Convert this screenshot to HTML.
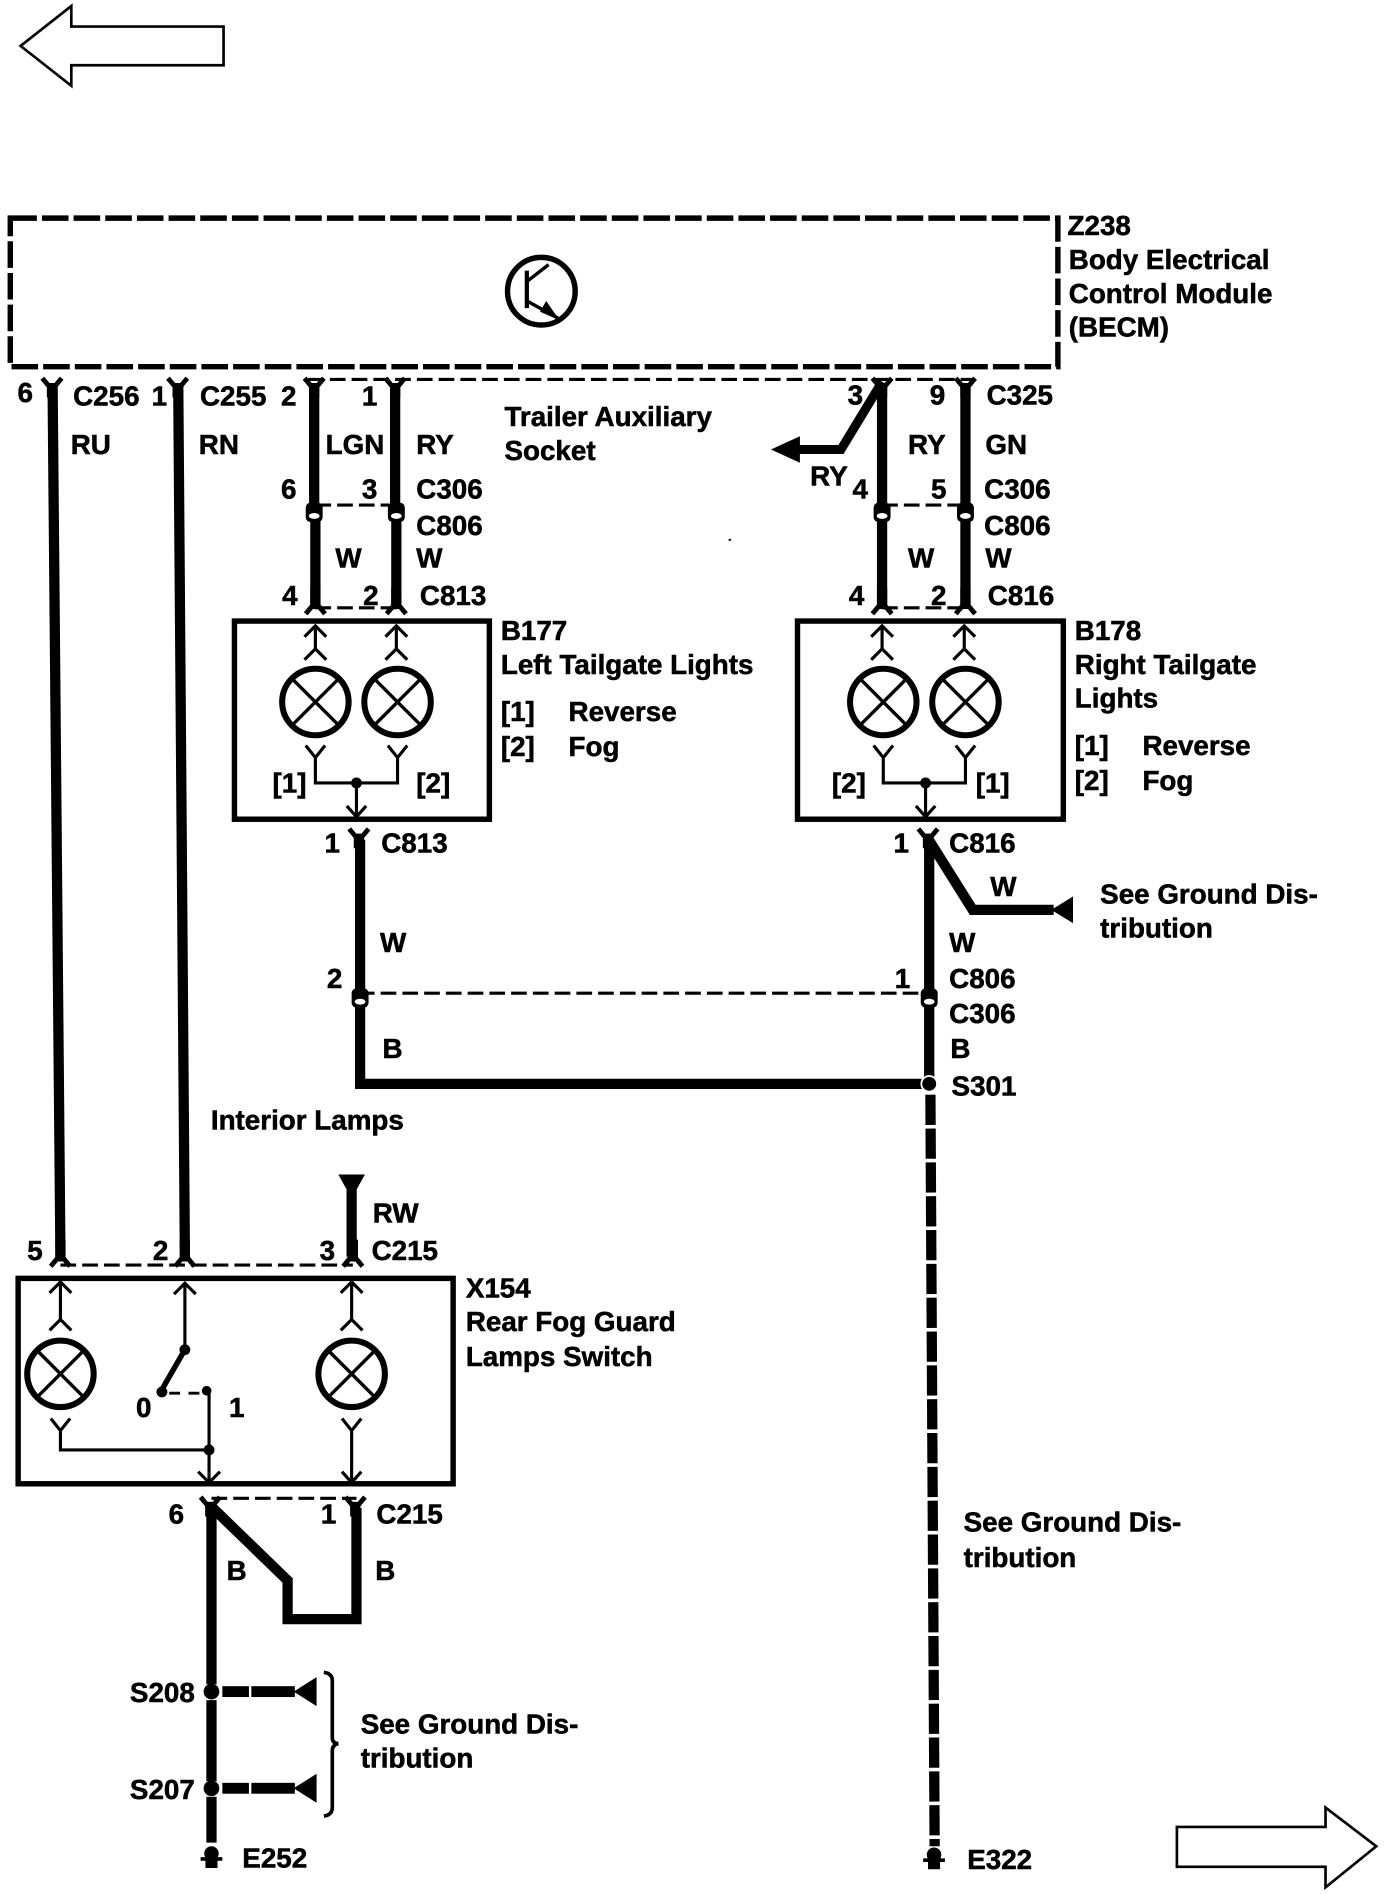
<!DOCTYPE html>
<html><head><meta charset="utf-8"><style>
html,body{margin:0;padding:0;background:#fff}
svg{display:block}
text{font-family:"Liberation Sans",sans-serif;font-weight:bold;font-size:23px;fill:#000;stroke:#000;stroke-width:.45}
.w{fill:none;stroke:#000;stroke-width:8.500}
.t{fill:none;stroke:#000;stroke-width:2.6}
.d{fill:none;stroke:#000;stroke-width:2.6;stroke-dasharray:13 5}
.b{fill:#fff;stroke:#000;stroke-width:4.5}
</style></head><body>
<svg width="1392" height="1894" viewBox="0 0 1152 1567.5" xmlns="http://www.w3.org/2000/svg">
<defs>
<g id="lamp"><circle r="27.5" fill="#fff" stroke="#000" stroke-width="5"/><path d="M-19-19L19 19M19-19L-19 19" stroke="#000" stroke-width="2.8"/></g>
<g id="up1"><path class="t" d="M0 0V19M-9 9L0 0L9 9M-9 28L0 19L9 28"/></g>
<g id="up2"><path class="t" d="M0 0V31M-9 9L0 0L9 9M-9 40L0 31L9 40"/></g>
<g id="cu"><path d="M-8 -2L-3 4H3L8 -2" fill="none" stroke="#000" stroke-width="4"/><rect x="-4.250" y="2" width="8.500" height="12"/></g>
<g id="cd"><path d="M-8 8L-3 2H3L8 8" fill="none" stroke="#000" stroke-width="4"/><rect x="-4.250" y="-14" width="8.500" height="16"/></g>
<g id="cm"><rect x="-7" y="-4" width="14" height="16" rx="4"/><ellipse cx="0" cy="7" rx="4.5" ry="2.4" fill="#fff"/></g>
<g id="gnd"><circle cy="-3" r="6"/><rect x="-9" y="0" width="18" height="3"/><rect x="-5" y="0" width="10" height="9"/></g>
<g id="stub"><rect x="184" y="-4.500" width="22" height="9"/><rect x="208" y="-4.500" width="36" height="9"/><path d="M243 0L262 -12V12Z"/></g>
</defs>

<path d="M17 38L59 5V22H185V54H59V71Z" fill="#fff" stroke="#000" stroke-width="2.2"/>
<path d="M974 1512H1097V1496L1139 1528L1097 1562V1545H974Z" fill="#fff" stroke="#000" stroke-width="2.2"/>

<rect x="8.500" y="180.500" width="867" height="123" fill="none" stroke="#000" stroke-width="4.5" stroke-dasharray="22 4.2"/>
<circle cx="448" cy="241" r="28" fill="none" stroke="#000" stroke-width="4.5"/>
<path d="M436 224V255" stroke="#000" stroke-width="3.5"/>
<path d="M436 233L454 219M436 249L463 264" fill="none" stroke="#000" stroke-width="2.8"/>
<path d="M463 265L447 258L452 249Z"/>

<path class="d" d="M255 314H805M261 503H328M730 503H799M261 418H328M730 418H799M297 822H770M50 1047H292M175 1240H295"/>

<path class="w" d="M43.500 318L50 1040M147.500 318L153 1040"/>
<use href="#cu" x="43" y="315"/><use href="#cu" x="147" y="315"/>
<use href="#cu" x="260" y="315"/><use href="#cu" x="327" y="315"/>
<use href="#cu" x="730" y="315"/><use href="#cu" x="799" y="315"/>

<path class="w" d="M260 318V418M327 318V418M261 430V500M328 430V500"/>
<path class="w" d="M730 318V418M799 318V418M730 430V500M799 430V500"/>
<path d="M730 316L696 372H660" fill="none" stroke="#000" stroke-width="7.500"/>
<path d="M638 372L662 361V383Z"/>
<use href="#cm" x="260" y="420"/><use href="#cm" x="328" y="420"/>
<use href="#cm" x="730" y="420"/><use href="#cm" x="799" y="420"/>
<use href="#cd" x="261" y="500"/><use href="#cd" x="328" y="500"/>
<use href="#cd" x="730" y="500"/><use href="#cd" x="799" y="500"/>

<!-- B177 -->
<rect class="b" x="194" y="514" width="211" height="164"/>
<use href="#up1" x="261" y="518"/><use href="#up1" x="328" y="518"/>
<use href="#lamp" x="261" y="581"/><use href="#lamp" x="329" y="581"/>
<path class="t" d="M253 617L261 627L269 617M321 617L329 627L337 617M261 627V648H329V627M295 648V677M287 667L295 676L303 667"/>
<circle cx="295" cy="648" r="4.500"/>

<!-- B178 -->
<rect class="b" x="660" y="514" width="220" height="164"/>
<use href="#up1" x="730" y="518"/><use href="#up1" x="798" y="518"/>
<use href="#lamp" x="731" y="581"/><use href="#lamp" x="799" y="581"/>
<path class="t" d="M723 617L731 627L739 617M791 617L799 627L807 617M731 627V648H799V627M766 648V677M758 667L766 676L774 667"/>
<circle cx="766" cy="648" r="4.500"/>

<!-- lower wires -->
<use href="#cu" x="297" y="688"/>
<use href="#cu" x="768" y="688"/>
<path class="w" d="M298 695V820M298 830V897H770M769 695V820M769 830V897"/>
<path class="w" d="M768 694L805 753H872"/>
<path d="M870 753L888 742V764Z"/>
<use href="#cm" x="298" y="822"/><use href="#cm" x="769" y="822"/>
<circle cx="769" cy="897" r="6.500" stroke="#fff" stroke-width="1.500"/>
<path d="M770 906L773.500 1528" fill="none" stroke="#000" stroke-width="8.500" stroke-dasharray="25 3"/>
<use href="#gnd" x="773" y="1538"/>
<rect x="603" y="446" width="2" height="1.500"/>

<!-- X154 -->
<path class="w" d="M291 985V1040"/>
<path d="M280 972H302L291 992Z"/>
<use href="#cd" x="50" y="1040"/><use href="#cd" x="153" y="1040"/><use href="#cd" x="292" y="1040"/>
<rect class="b" x="15" y="1058" width="360" height="170"/>
<use href="#up2" x="50" y="1061"/><use href="#up2" x="291" y="1061"/>
<use href="#lamp" x="50" y="1137"/><use href="#lamp" x="291" y="1137"/>
<path class="t" d="M153 1062V1117M144 1071L153 1062L162 1071"/>
<circle cx="153" cy="1117" r="4.500"/>
<path d="M153 1117L134 1150" stroke="#000" stroke-width="4.500"/>
<circle cx="134" cy="1152" r="4.500"/>
<path d="M140 1153H172" stroke="#000" stroke-width="2.400" stroke-dasharray="9 7"/>
<circle cx="171" cy="1151" r="4"/>
<path class="t" d="M173 1152V1227M164 1218L173 1227L182 1218"/>
<circle cx="173" cy="1200" r="4.500"/>
<path class="t" d="M42 1174L50 1184L58 1174M50 1184V1200H173"/>
<path class="t" d="M283 1174L291 1184L299 1174M291 1184V1227M283 1218L291 1227L299 1218"/>

<use href="#cu" x="174" y="1241"/><use href="#cu" x="294" y="1241"/>
<path class="w" d="M175 1246V1394M175 1407V1474M175 1487V1525"/>
<path class="w" d="M175 1247L238 1308V1340H295V1248"/>
<circle cx="175" cy="1400" r="6.500"/><circle cx="175" cy="1480" r="6.500"/>
<use href="#stub" x="0" y="1400"/><use href="#stub" x="0" y="1480"/>
<path d="M268 1384Q275 1385 275 1391V1438Q275 1443 280 1443Q275 1444 275 1449V1496Q275 1502 268 1503" fill="none" stroke="#000" stroke-width="3"/>
<use href="#gnd" x="175" y="1537"/>

<!-- labels -->
<g transform="translate(0.5,-0.3)">
<text x="14" y="333">6</text><text x="60" y="336">C256</text><text x="125" y="336">1</text><text x="165" y="336">C255</text><text x="232" y="336">2</text><text x="299" y="336">1</text>
<text x="58" y="376">RU</text><text x="164" y="376">RN</text><text x="269" y="376">LGN</text><text x="344" y="376">RY</text>
<text x="417" y="353">Trailer Auxiliary</text><text x="417" y="381">Socket</text>
<text x="232" y="413">6</text><text x="299" y="413">3</text><text x="344" y="413">C306</text><text x="344" y="443">C806</text>
<text x="277" y="470">W</text><text x="344" y="470">W</text><text x="233" y="501">4</text><text x="300" y="501">2</text><text x="347" y="501">C813</text>
<text x="414" y="530">B177</text><text x="414" y="558">Left Tailgate Lights</text>
<text x="414" y="597">[1]</text><text x="470" y="597">Reverse</text><text x="414" y="626">[2]</text><text x="470" y="626">Fog</text>
<text x="225" y="656">[1]</text><text x="344" y="656">[2]</text>
<text x="268" y="706">1</text><text x="315" y="706">C813</text><text x="314" y="788">W</text><text x="270" y="818">2</text><text x="316" y="876">B</text>

<text x="701" y="335">3</text><text x="769" y="335">9</text><text x="816" y="335">C325</text>
<text x="751" y="376">RY</text><text x="815" y="376">GN</text><text x="670" y="402">RY</text>
<text x="705" y="413">4</text><text x="770" y="413">5</text><text x="814" y="413">C306</text><text x="814" y="443">C806</text>
<text x="751" y="470">W</text><text x="815" y="470">W</text><text x="702" y="501">4</text><text x="770" y="501">2</text><text x="817" y="501">C816</text>
<text x="889" y="530">B178</text><text x="889" y="558">Right Tailgate</text><text x="889" y="586">Lights</text>
<text x="889" y="625">[1]</text><text x="945" y="625">Reverse</text><text x="889" y="654">[2]</text><text x="945" y="654">Fog</text>
<text x="688" y="656">[2]</text><text x="807" y="656">[1]</text>
<text x="883" y="195">Z238</text><text x="884" y="223">Body Electrical</text><text x="884" y="251">Control Module</text><text x="884" y="279">(BECM)</text>
<text x="739" y="706">1</text><text x="785" y="706">C816</text><text x="819" y="742">W</text>
<text x="910" y="748">See Ground Dis-</text><text x="910" y="776">tribution</text>
<text x="785" y="788">W</text><text x="740" y="818">1</text><text x="785" y="818">C806</text><text x="785" y="847">C306</text><text x="786" y="876">B</text><text x="787" y="907">S301</text>
<text x="174" y="935">Interior Lamps</text><text x="308" y="1012">RW</text>
<text x="22" y="1043">5</text><text x="126" y="1043">2</text><text x="264" y="1043">3</text><text x="307" y="1043">C215</text>
<text x="385" y="1074">X154</text><text x="385" y="1102">Rear Fog Guard</text><text x="385" y="1131">Lamps Switch</text>
<text x="112" y="1173">0</text><text x="189" y="1173">1</text>
<text x="139" y="1261">6</text><text x="265" y="1261">1</text><text x="311" y="1261">C215</text>
<text x="187" y="1308">B</text><text x="310" y="1308">B</text>
<text x="107" y="1409">S208</text><text x="107" y="1489">S207</text>
<text x="298" y="1435">See Ground Dis-</text><text x="298" y="1463">tribution</text>
<text x="200" y="1546">E252</text>
<text x="797" y="1268">See Ground Dis-</text><text x="797" y="1297">tribution</text>
<text x="800" y="1547">E322</text>
</g>
</svg>
</body></html>
